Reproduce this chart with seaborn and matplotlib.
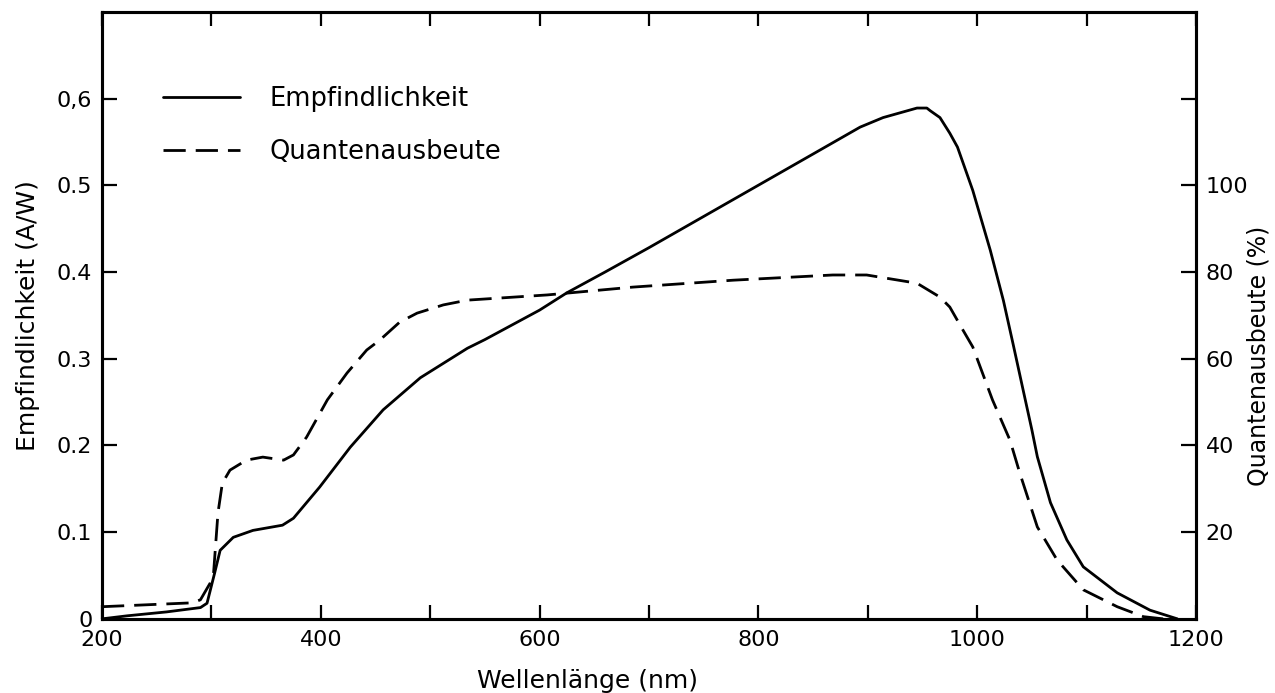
import matplotlib
matplotlib.use("Agg")
import matplotlib.pyplot as plt
import seaborn as sns
import pandas as pd

# --- data ---
wl_resp = [200, 223, 259, 290, 296, 303, 308, 320, 338, 365, 375, 399, 427, 457,
           491, 534, 550, 600, 625, 660, 700, 750, 800, 850, 893, 914, 945, 954,
           957, 966, 975, 982, 996, 1012, 1024, 1033, 1042, 1050, 1055, 1067,
           1082, 1097, 1128, 1158, 1183]
resp = [0.0, 0.0035, 0.008, 0.013, 0.018, 0.053, 0.079, 0.094, 0.102, 0.108, 0.116,
        0.152, 0.198, 0.241, 0.278, 0.312, 0.322, 0.356, 0.376, 0.400, 0.428, 0.464,
        0.500, 0.536, 0.567, 0.578, 0.589, 0.589, 0.586, 0.578, 0.560, 0.544, 0.494,
        0.425, 0.367, 0.316, 0.264, 0.218, 0.187, 0.134, 0.091, 0.060, 0.030,
        0.010, 0.0]

wl_qe = [200, 283, 290, 299, 302, 306, 310, 317, 332, 347, 366, 375, 387, 406, 424,
         442, 454, 472, 488, 512, 534, 607, 685, 777, 868, 899, 945, 966, 975, 987,
         996, 1014, 1030, 1039, 1055, 1073, 1097, 1128, 1152, 1170]
qe = [2.8, 3.7, 4.4, 8.3, 10.6, 24.4, 31.3, 34.3, 36.6, 37.3, 36.6, 37.8, 41.9, 50.5,
      56.7, 62.0, 64.3, 68.4, 70.5, 72.4, 73.5, 74.7, 76.5, 78.1, 79.3, 79.3, 77.4,
      74.2, 71.9, 66.6, 62.7, 50.5, 41.2, 33.6, 21.2, 13.6, 6.7, 2.8, 0.5, 0.0]

x_ticks = [200, 300, 400, 500, 600, 700, 800, 900, 1000, 1100, 1200]
x_ticklabels = ["200", "", "400", "", "600", "", "800", "", "1000", "", "1200"]
left_ticks = [0, 0.1, 0.2, 0.3, 0.4, 0.5, 0.6]
left_ticklabels = ["0", "0.1", "0.2", "0.3", "0.4", "0.5", "0,6"]
right_ticks = [20, 40, 60, 80, 100, 120]
right_ticklabels = ["20", "40", "60", "80", "100", ""]

label_resp = "Empfindlichkeit"
label_qe = "Quantenausbeute"

df_resp = pd.DataFrame({"wl": wl_resp, "val": resp})
df_qe = pd.DataFrame({"wl": wl_qe, "val": qe})

sns.set_style("white")
plt.rcParams["font.family"] = ["DejaVu Sans"]
plt.rcParams["font.size"] = 16
plt.rcParams["text.color"] = "black"
plt.rcParams["axes.labelcolor"] = "black"
plt.rcParams["xtick.color"] = "black"
plt.rcParams["ytick.color"] = "black"

fig = plt.figure(figsize=(12.75, 6.93), dpi=100)
ax = fig.add_axes([0.08, 0.107, 0.858, 0.876])
ax2 = ax.twinx()

sns.lineplot(data=df_resp, x="wl", y="val", ax=ax, color="black", lw=2.0,
             estimator=None, sort=False)
sns.lineplot(data=df_qe, x="wl", y="val", ax=ax2, color="black", lw=2.0,
             linestyle=(0, (8.0, 3.6)), estimator=None, sort=False)

ax.set_xlim(200, 1200)
ax.set_ylim(0, 0.7)
ax2.set_ylim(0, 140)

ax.set_xticks(x_ticks)
ax.set_xticklabels(x_ticklabels)
ax.set_yticks(left_ticks)
ax.set_yticklabels(left_ticklabels)
ax2.set_yticks(right_ticks)
ax2.set_yticklabels(right_ticklabels)

ax.tick_params(axis="x", direction="in", length=10, width=1.6, top=True,
               bottom=True, pad=8, labelsize=16, colors="black")
ax.tick_params(axis="y", direction="in", length=11, width=1.6, left=True,
               right=False, pad=7, labelsize=16, colors="black")
ax2.tick_params(axis="y", direction="in", length=11, width=1.6, right=True,
                left=False, pad=7, labelsize=16, colors="black")

for a in (ax, ax2):
    for s in a.spines.values():
        s.set_linewidth(2.2)
        s.set_color("black")
        s.set_visible(True)

ax.set_xlabel("Wellenlänge (nm)", fontsize=18, color="black")
ax.xaxis.set_label_coords(0.444, -0.082)
ax.set_ylabel("Empfindlichkeit (A/W)", fontsize=18, labelpad=12, color="black")
ax2.set_ylabel("Quantenausbeute (%)", fontsize=17, rotation=90, color="black")
ax2.yaxis.set_label_coords(1.046, 0.433)

h1 = ax.get_lines()[0]
h2 = ax2.get_lines()[0]
leg = ax.legend([h1, h2], [label_resp, label_qe], loc="upper left",
                bbox_to_anchor=(0.056, 0.878), frameon=False, fontsize=18.5,
                handlelength=3.0, handletextpad=1.15, labelspacing=1.05,
                borderpad=0, borderaxespad=0)
for t in leg.get_texts():
    t.set_color("black")

fig.savefig("out.png", dpi=100, facecolor="white")
